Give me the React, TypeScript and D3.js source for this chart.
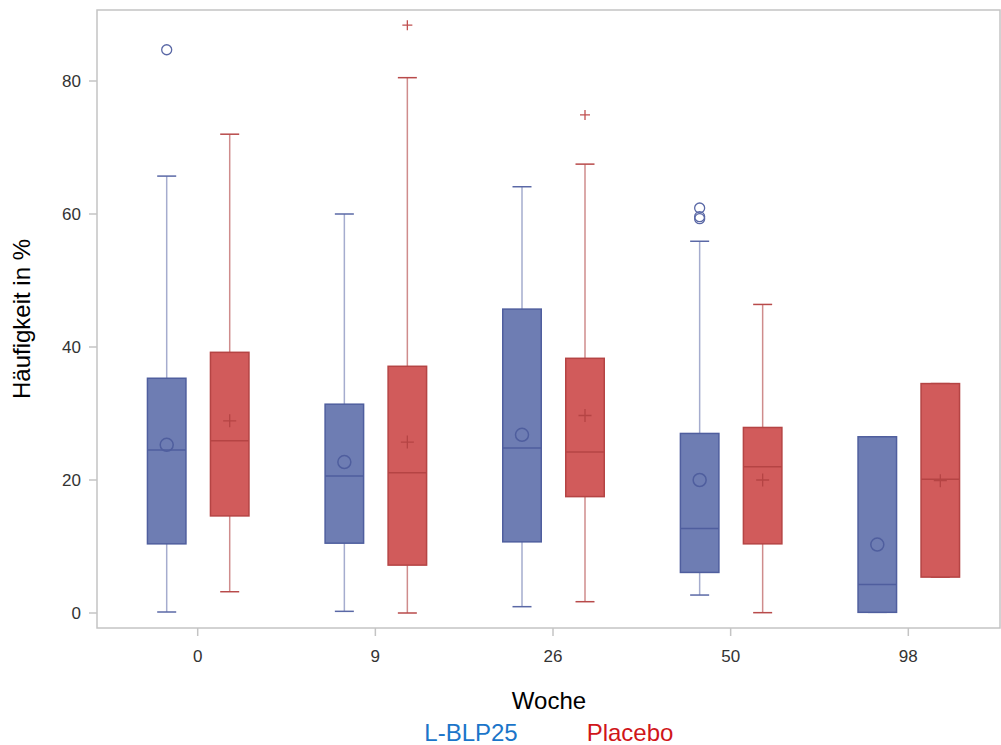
import * as d3 from "d3";

const weeks = ["0", "9", "26", "50", "98"];
const groups = ["L-BLP25", "Placebo"];

// [whiskerLow, Q1, median, Q3, whiskerHigh, mean] per week
const blpStats = [
  [0.15, 10.4, 24.5, 35.3, 65.7, 25.3],
  [0.25, 10.5, 20.6, 31.4, 60.0, 22.7],
  [0.95, 10.7, 24.8, 45.7, 64.1, 26.8],
  [2.7, 6.1, 12.7, 27.0, 55.9, 20.0],
  [0.1, 0.1, 4.3, 26.5, 26.5, 10.3],
];
const placeboStats = [
  [3.2, 14.6, 25.9, 39.2, 72.0, 28.9],
  [0.0, 7.2, 21.1, 37.1, 80.5, 25.7],
  [1.7, 17.5, 24.2, 38.3, 67.5, 29.7],
  [0.05, 10.4, 22.0, 27.9, 46.4, 20.0],
  [5.4, 5.4, 20.1, 34.5, 34.5, 19.9],
];
const blpOutliers = [[84.7], [], [], [60.9, 59.6, 59.3], []];
const placeboOutliers = [[], [88.4], [74.9], [], []];
const yTicks = [0, 20, 40, 60, 80];

const styles = [
  { fill: "#6e7db3", stroke: "#4f5e9e", whisker: "#a5acce", cap: "#5a68a6", text: "#1b75c9" },
  { fill: "#d15b5b", stroke: "#b54444", whisker: "#cf8c8c", cap: "#b84a4a", text: "#d0161a" },
];

const W = 1001;
const H = 745;
const frame = { left: 97, right: 1000, top: 10, bottom: 628 };

export default function App() {
  const y = d3.scaleLinear().domain([0, 80]).range([613, 81]);
  const x = d3.scalePoint().domain(weeks).range([197.7, 908.3]);
  const off = d3.scalePoint().domain(groups).range([-31, 32]);
  const boxW = 38.5;
  const capW = 19;
  const font = "'Liberation Sans', Arial, sans-serif";

  const series = [
    { name: groups[0], stats: blpStats, outliers: blpOutliers, st: styles[0] },
    { name: groups[1], stats: placeboStats, outliers: placeboOutliers, st: styles[1] },
  ];

  return (
    <svg width={W} height={H} style={{ position: "absolute", left: 0, top: 0 }} fontFamily={font}>
      <rect x={0} y={0} width={W} height={H} fill="#fff" />
      <rect
        x={frame.left}
        y={frame.top}
        width={frame.right - frame.left}
        height={frame.bottom - frame.top}
        fill="none"
        stroke="#c4c4c4"
        strokeWidth={1.5}
      />
      {yTicks.map((t) => (
        <g key={t}>
          <line x1={frame.left - 8} x2={frame.left} y1={y(t)} y2={y(t)} stroke="#c4c4c4" strokeWidth={1.5} />
          <text x={frame.left - 16} y={y(t)} dy="0.36em" textAnchor="end" fontSize={17} fill="#333">
            {t}
          </text>
        </g>
      ))}
      {weeks.map((w) => (
        <g key={w}>
          <line x1={x(w)} x2={x(w)} y1={frame.bottom} y2={frame.bottom + 8} stroke="#c4c4c4" strokeWidth={1.5} />
          <text x={x(w)} y={frame.bottom + 34} textAnchor="middle" fontSize={17} fill="#333">
            {w}
          </text>
        </g>
      ))}
      <text
        transform={`translate(30,${(frame.top + frame.bottom) / 2}) rotate(-90)`}
        textAnchor="middle"
        fontSize={24}
        fill="#000"
      >
        Häufigkeit in %
      </text>
      <text x={549} y={709} textAnchor="middle" fontSize={24} fill="#000">
        Woche
      </text>
      <text x={471} y={741} textAnchor="middle" fontSize={24} fill={styles[0].text}>
        L-BLP25
      </text>
      <text x={630} y={741} textAnchor="middle" fontSize={24} fill={styles[1].text}>
        Placebo
      </text>

      {series.map((s, si) =>
        weeks.map((w, i) => {
          const [lo, q1, med, q3, hi, mean] = s.stats[i];
          const cx = (x(w) as number) + (off(s.name) as number);
          return (
            <g key={`${si}-${w}`}>
              <line x1={cx} x2={cx} y1={y(hi)} y2={y(q3)} stroke={s.st.whisker} strokeWidth={1.5} />
              <line x1={cx} x2={cx} y1={y(q1)} y2={y(lo)} stroke={s.st.whisker} strokeWidth={1.5} />
              <line x1={cx - capW / 2} x2={cx + capW / 2} y1={y(hi)} y2={y(hi)} stroke={s.st.cap} strokeWidth={1.5} />
              <line x1={cx - capW / 2} x2={cx + capW / 2} y1={y(lo)} y2={y(lo)} stroke={s.st.cap} strokeWidth={1.5} />
              <rect
                x={cx - boxW / 2}
                y={y(q3)}
                width={boxW}
                height={y(q1) - y(q3)}
                fill={s.st.fill}
                stroke={s.st.stroke}
                strokeWidth={1.5}
              />
              <line x1={cx - boxW / 2} x2={cx + boxW / 2} y1={y(med)} y2={y(med)} stroke={s.st.stroke} strokeWidth={1.5} />
              {si === 0 ? (
                <circle cx={cx} cy={y(mean)} r={6.5} fill="none" stroke={s.st.stroke} strokeWidth={1.5} />
              ) : (
                <path
                  d={`M${cx - 6.5},${y(mean)}H${cx + 6.5}M${cx},${y(mean) - 6.5}V${y(mean) + 6.5}`}
                  stroke={s.st.stroke}
                  strokeWidth={1.3}
                />
              )}
              {s.outliers[i].map((o, oi) =>
                si === 0 ? (
                  <circle key={oi} cx={cx} cy={y(o)} r={5} fill="none" stroke="#5a68a6" strokeWidth={1.3} />
                ) : (
                  <path
                    key={oi}
                    d={`M${cx - 5},${y(o)}H${cx + 5}M${cx},${y(o) - 5}V${y(o) + 5}`}
                    stroke="#c05050"
                    strokeWidth={1.3}
                  />
                )
              )}
            </g>
          );
        })
      )}
    </svg>
  );
}
